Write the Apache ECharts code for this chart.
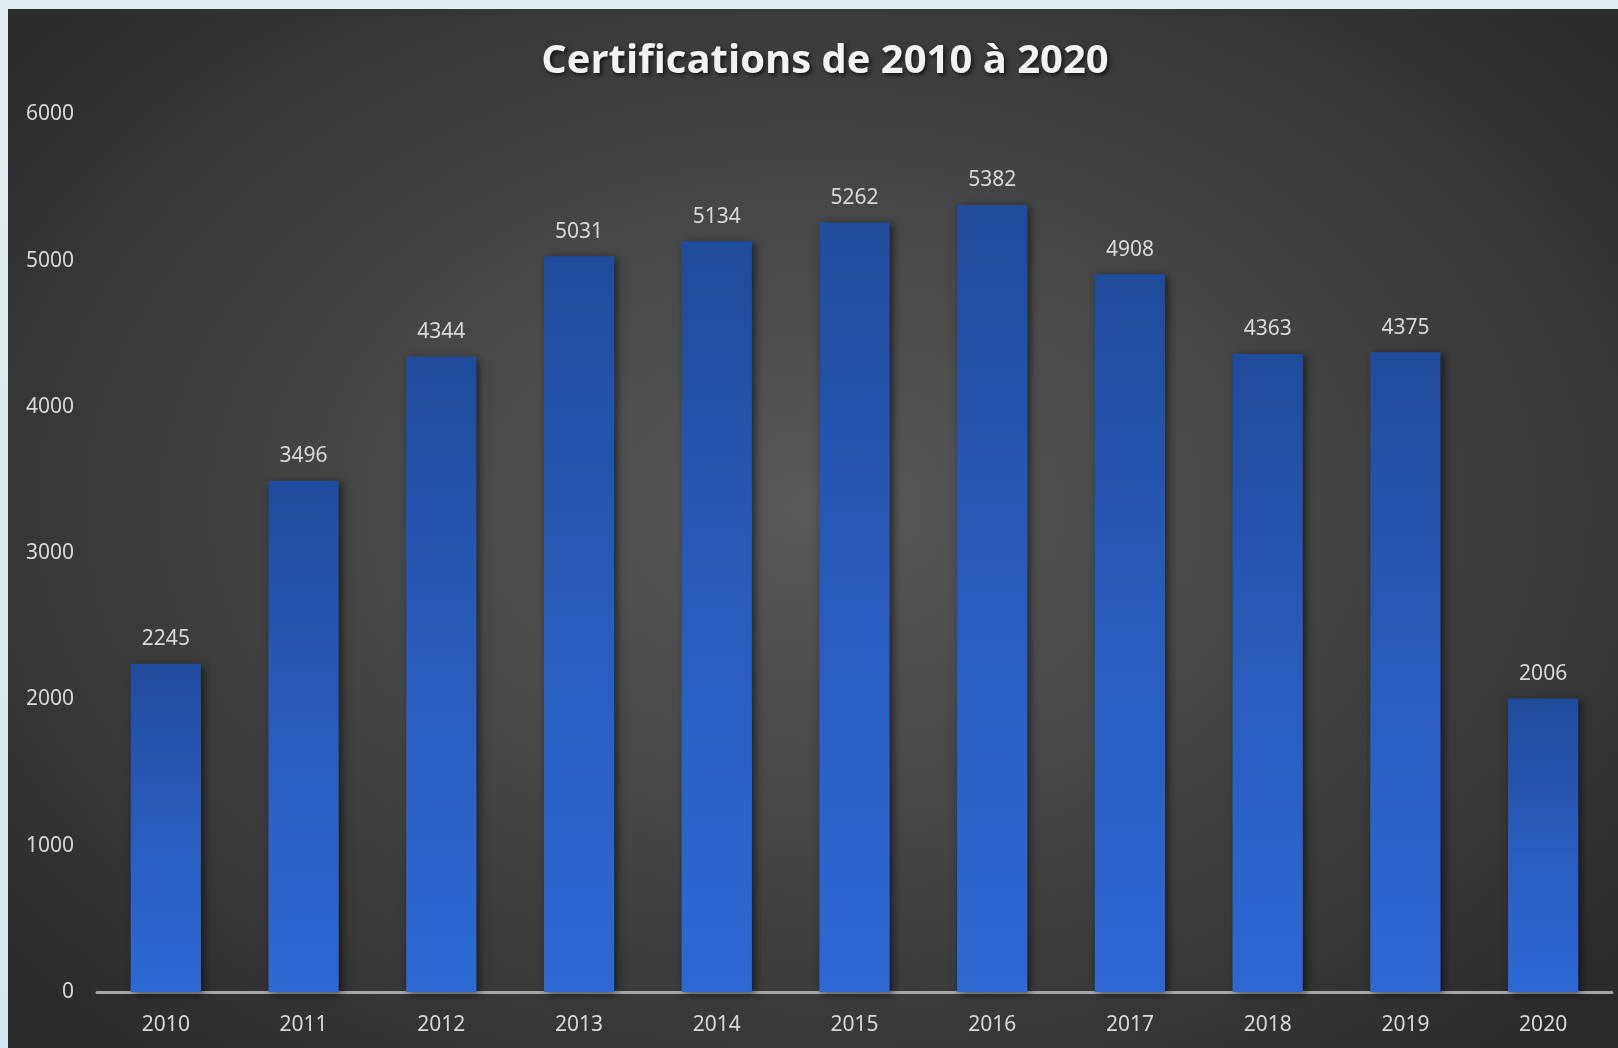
<!DOCTYPE html>
<html>
<head>
<meta charset="utf-8">
<title>Certifications de 2010 à 2020</title>
<script src="https://cdn.jsdelivr.net/npm/echarts@6/dist/echarts.min.js"></script>
<style>
    html, body { margin: 0; padding: 0; }
    body {
        width: 1618px; height: 1048px; overflow: hidden;
        background: linear-gradient(180deg, #e3eef0 0%, #d6e6ee 100%);
        position: relative;
    }
    #chart {
        position: absolute; left: 8px; top: 9px;
        width: 1610px; height: 1039px;
        background: radial-gradient(ellipse 65% 70% at 50% 48%, #585858 0%, #434343 50%, #2b2b2b 100%);
    }
</style>
</head>
<body>
<div id="chart"></div>
<script>
    var years = ['2010', '2011', '2012', '2013', '2014', '2015', '2016', '2017', '2018', '2019', '2020'];
    var certifications = [2245, 3496, 4344, 5031, 5134, 5262, 5382, 4908, 4363, 4375, 2006];
    var yTicks = [0, 1000, 2000, 3000, 4000, 5000, 6000];

    var font = '"Noto Sans", "Open Sans", sans-serif';

    var option = {
        backgroundColor: 'transparent',
        animation: false,
        title: {
            text: 'Certifications de 2010 à 2020',
            left: 812,
            top: 28,
            textAlign: 'center',
            textStyle: {
                color: '#f2f2f2',
                fontFamily: '"Open Sans", "Noto Sans", sans-serif',
                fontWeight: 'bold',
                fontSize: 40,
                textShadowColor: 'rgba(0,0,0,0.7)',
                textShadowBlur: 4,
                textShadowOffsetX: 2,
                textShadowOffsetY: 2
            }
        },
        grid: {
            left: 89,
            right: 6,
            top: 105.5,
            bottom: 56,
            containLabel: false
        },
        xAxis: {
            type: 'category',
            data: years,
            axisLine: { lineStyle: { color: '#a6a6a6', width: 3 } },
            axisTick: { show: false },
            axisLabel: {
                color: '#d9d9d9',
                fontFamily: font,
                fontSize: 21,
                margin: 23
            }
        },
        yAxis: {
            type: 'value',
            min: yTicks[0],
            max: yTicks[yTicks.length - 1],
            interval: 1000,
            axisLine: { show: false },
            axisTick: { show: false },
            splitLine: { show: false },
            axisLabel: {
                color: '#d9d9d9',
                fontFamily: font,
                fontSize: 21,
                margin: 23,
                formatter: function (v) { return String(v); }
            }
        },
        series: [{
            type: 'bar',
            data: certifications,
            barWidth: '51%',
            itemStyle: {
                color: new echarts.graphic.LinearGradient(0, 0, 0, 1, [
                    { offset: 0, color: '#1f4b9c' },
                    { offset: 0.6, color: '#2a5fc2' },
                    { offset: 1, color: '#2d68d3' }
                ]),
                shadowColor: 'rgba(0,0,0,0.55)',
                shadowBlur: 8,
                shadowOffsetX: 3,
                shadowOffsetY: 2
            },
            label: {
                show: true,
                position: 'top',
                distance: 14,
                color: '#d9d9d9',
                fontFamily: font,
                fontSize: 21
            }
        }]
    };

    var chart = echarts.init(document.getElementById('chart'));
    chart.setOption(option);
</script>
</body>
</html>
